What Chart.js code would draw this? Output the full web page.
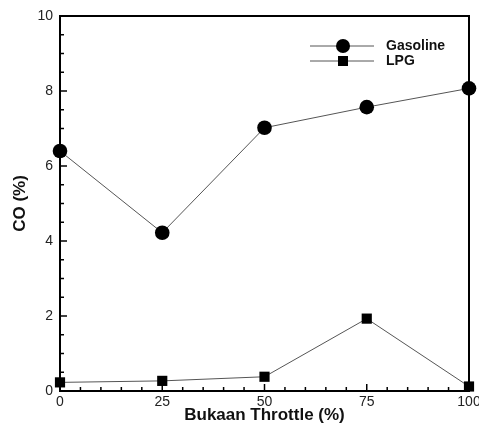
<!DOCTYPE html>
<html>
<head>
<meta charset="utf-8">
<script src="https://cdn.jsdelivr.net/npm/chart.js@4.4.1/dist/chart.umd.min.js"></script>
<style>
  html, body { margin: 0; padding: 0; background: #fff; }
  #wrap { width: 479px; height: 426px; }
</style>
</head>
<body>
<div id="wrap"><canvas id="graphique" width="479" height="426"></canvas></div>
<script>
// Données : CO (%) selon l'ouverture du papillon
const bukaan = [0, 25, 50, 75, 100];
const coGasoline = [6.4, 4.22, 7.02, 7.57, 8.07];
const coLPG = [0.23, 0.27, 0.38, 1.93, 0.12];
const ticksX = [0, 25, 50, 75, 100];
const ticksY = [0, 2, 4, 6, 8, 10];

const police = 'Arial, "Liberation Sans", sans-serif';

// Cadre complet + graduations tournées vers l'intérieur + légende
const cadrePlugin = {
  id: 'cadre',
  afterDraw(chart) {
    const { ctx, chartArea: a, scales } = chart;
    ctx.save();
    ctx.strokeStyle = '#000';
    ctx.lineWidth = 2;
    ctx.strokeRect(a.left, a.top, a.right - a.left, a.bottom - a.top);

    // graduations axe X
    ctx.lineWidth = 1.5;
    for (let v = 0; v <= 100; v += 5) {
      const x = scales.x.getPixelForValue(v);
      const len = v % 25 === 0 ? 7 : 4;
      ctx.beginPath();
      ctx.moveTo(x, a.bottom);
      ctx.lineTo(x, a.bottom - len);
      ctx.stroke();
    }
    // graduations axe Y
    for (let v = 0; v <= 10; v += 0.5) {
      const y = scales.y.getPixelForValue(v);
      const len = v % 2 === 0 ? 7 : 4;
      ctx.beginPath();
      ctx.moveTo(a.left, y);
      ctx.lineTo(a.left + len, y);
      ctx.stroke();
    }

    // légende
    const series = chart.data.datasets;
    const lx = 310, ly = 46;
    series.forEach((ds, i) => {
      const y = ly + i * 15;
      ctx.strokeStyle = '#555';
      ctx.lineWidth = 1;
      ctx.beginPath();
      ctx.moveTo(lx, y);
      ctx.lineTo(lx + 64, y);
      ctx.stroke();
      ctx.fillStyle = '#000';
      if (ds.pointStyle === 'circle') {
        ctx.beginPath();
        ctx.arc(lx + 33, y, 7, 0, Math.PI * 2);
        ctx.fill();
      } else {
        ctx.fillRect(lx + 33 - 5, y - 5, 10, 10);
      }
      ctx.font = 'bold 14px ' + police;
      ctx.textBaseline = 'middle';
      ctx.fillStyle = '#111';
      ctx.fillText(ds.label, lx + 76, y);
    });
    ctx.restore();
  }
};

new Chart(document.getElementById('graphique').getContext('2d'), {
  type: 'line',
  data: {
    datasets: [
      {
        label: 'Gasoline',
        data: bukaan.map((b, i) => ({ x: b, y: coGasoline[i] })),
        borderColor: '#555',
        borderWidth: 1,
        pointStyle: 'circle',
        pointRadius: 7.3,
        pointBackgroundColor: '#000',
        pointBorderColor: '#000',
        pointBorderWidth: 0,
        tension: 0
      },
      {
        label: 'LPG',
        data: bukaan.map((b, i) => ({ x: b, y: coLPG[i] })),
        borderColor: '#555',
        borderWidth: 1,
        pointStyle: 'rect',
        pointRadius: 7.2,
        pointBackgroundColor: '#000',
        pointBorderColor: '#000',
        pointBorderWidth: 0,
        tension: 0
      }
    ]
  },
  options: {
    responsive: false,
    animation: false,
    clip: false,
    layout: { padding: { top: 16, right: 10, left: 0, bottom: 0 } },
    plugins: { legend: { display: false }, tooltip: { enabled: false } },
    scales: {
      x: {
        type: 'linear',
        min: 0,
        max: 100,
        afterBuildTicks: (s) => { s.ticks = ticksX.map((v) => ({ value: v })); },
        afterFit: (s) => { s.height = 35; s.paddingLeft = 0; s.paddingRight = 0; },
        grid: { display: false, drawTicks: false },
        border: { display: true, color: '#000', width: 2 },
        ticks: { color: '#222', font: { family: police, size: 14 }, padding: 3, maxRotation: 0 },
        title: {
          display: true,
          text: 'Bukaan Throttle (%)',
          color: '#111',
          font: { family: police, size: 17, weight: 'bold' },
          padding: { top: 0, bottom: 0 }
        }
      },
      y: {
        min: 0,
        max: 10,
        afterBuildTicks: (s) => { s.ticks = ticksY.map((v) => ({ value: v })); },
        afterFit: (s) => { s.width = 60; s.paddingTop = 0; s.paddingBottom = 0; },
        grid: { display: false, drawTicks: false },
        border: { display: true, color: '#000', width: 2 },
        ticks: { color: '#222', font: { family: police, size: 14 }, padding: 7 },
        title: {
          display: true,
          text: 'CO (%)',
          color: '#111',
          font: { family: police, size: 17, weight: 'bold' },
          padding: { top: 10, bottom: 0 }
        }
      }
    }
  },
  plugins: [cadrePlugin]
});
</script>
</body>
</html>
